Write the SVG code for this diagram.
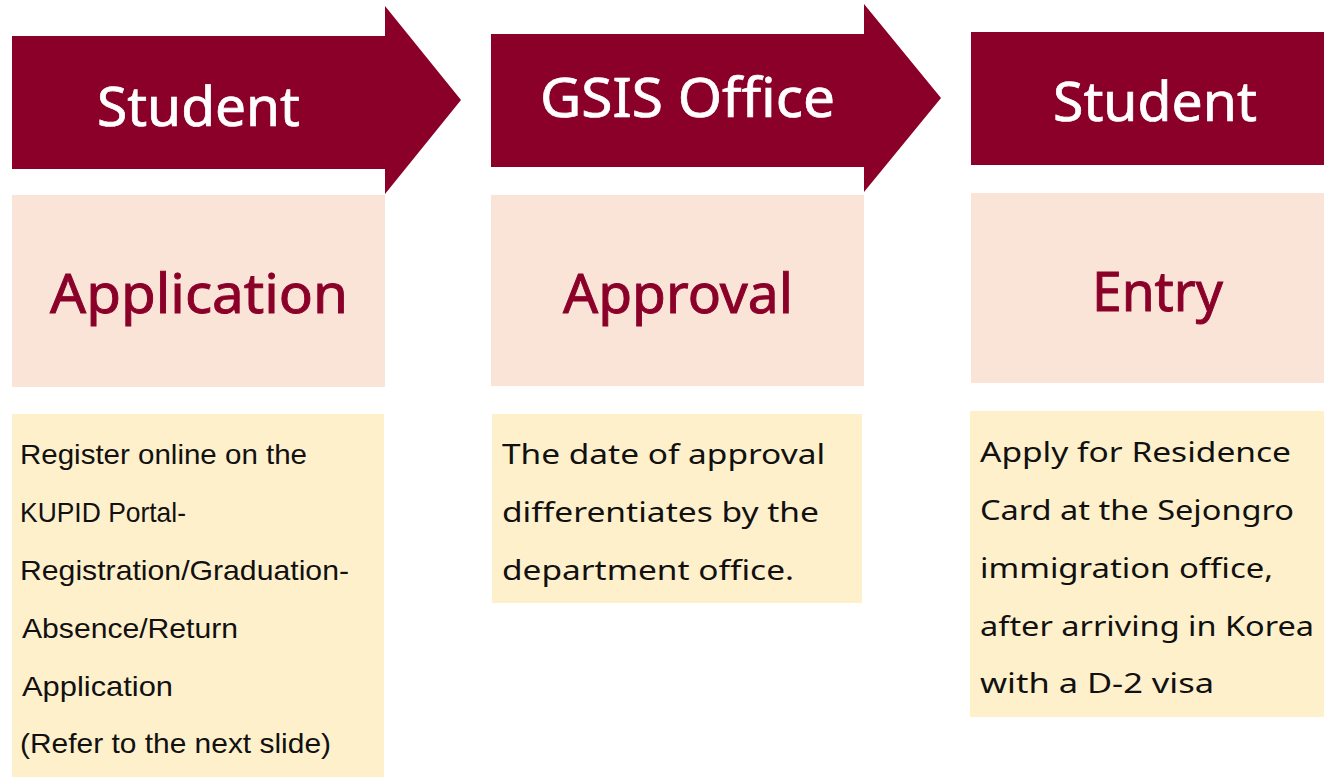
<svg xmlns="http://www.w3.org/2000/svg" width="1324" height="777" viewBox="0 0 1324 777">
<style>
.hdr{fill:#8B0029}
.pink{fill:#FAE4D8}
.yel{fill:#FFF0CC}
.ht{font-family:"Noto Sans","Open Sans","Liberation Sans",sans-serif;font-size:54px;fill:#FFFFFF;stroke:#FFFFFF;stroke-width:0.7px}
.pt{font-family:"Noto Sans","Open Sans","Liberation Sans",sans-serif;font-size:54px;fill:#8B0029;stroke:#8B0029;stroke-width:0.9px}
.b1{font-family:"Liberation Sans Narrow","Liberation Sans",sans-serif;font-size:28px;fill:#111111}
.b2{font-family:"Noto Sans","Open Sans","Liberation Sans",sans-serif;font-size:28px;fill:#111111}
</style>
<rect width="1324" height="777" fill="#FFFFFF"/>
<g id="connectors"></g>
<g id="step1">
<polygon class="hdr" points="12,36 385,36 385,6 461,100 385,194 385,169 12,169"/>
<text class="ht" x="97" y="126" textLength="203" lengthAdjust="spacingAndGlyphs">Student</text>
<rect class="pink" x="12" y="195" width="373" height="192"/>
<text class="pt" x="50" y="313" textLength="298" lengthAdjust="spacingAndGlyphs">Application</text>
<rect class="yel" x="12" y="414" width="372" height="363"/>
<text class="b1" x="20" y="464" textLength="287" lengthAdjust="spacingAndGlyphs">Register online on the</text>
<text class="b1" x="20" y="522" textLength="166" lengthAdjust="spacingAndGlyphs">KUPID Portal-</text>
<text class="b1" x="20" y="580" textLength="329" lengthAdjust="spacingAndGlyphs">Registration/Graduation-</text>
<text class="b1" x="22" y="638" textLength="216" lengthAdjust="spacingAndGlyphs">Absence/Return</text>
<text class="b1" x="22" y="696" textLength="151" lengthAdjust="spacingAndGlyphs">Application</text>
<text class="b1" x="20" y="753" textLength="311" lengthAdjust="spacingAndGlyphs">(Refer to the next slide)</text>
</g>
<g id="step2">
<polygon class="hdr" points="491,34 864,34 864,4 941,98 864,192 864,167 491,167"/>
<text class="ht" x="540" y="117" textLength="295" lengthAdjust="spacingAndGlyphs">GSIS Office</text>
<rect class="pink" x="491" y="195" width="373" height="191"/>
<text class="pt" x="563" y="313" textLength="230" lengthAdjust="spacingAndGlyphs">Approval</text>
<rect class="yel" x="492" y="414" width="370" height="189"/>
<text class="b2" x="502" y="464" textLength="323" lengthAdjust="spacingAndGlyphs">The date of approval</text>
<text class="b2" x="502" y="522" textLength="317" lengthAdjust="spacingAndGlyphs">differentiates by the</text>
<text class="b2" x="502" y="580" textLength="292" lengthAdjust="spacingAndGlyphs">department office.</text>
</g>
<g id="step3">
<rect class="hdr" x="971" y="32" width="353" height="133"/>
<text class="ht" x="1053" y="121" textLength="204" lengthAdjust="spacingAndGlyphs">Student</text>
<rect class="pink" x="971" y="193" width="353" height="190"/>
<text class="pt" x="1092" y="311" textLength="131" lengthAdjust="spacingAndGlyphs">Entry</text>
<rect class="yel" x="970" y="411" width="354" height="306"/>
<text class="b2" x="980" y="462" textLength="311" lengthAdjust="spacingAndGlyphs">Apply for Residence</text>
<text class="b2" x="980" y="520" textLength="314" lengthAdjust="spacingAndGlyphs">Card at the Sejongro</text>
<text class="b2" x="980" y="578" textLength="293" lengthAdjust="spacingAndGlyphs">immigration office,</text>
<text class="b2" x="980" y="636" textLength="334" lengthAdjust="spacingAndGlyphs">after arriving in Korea</text>
<text class="b2" x="980" y="693" textLength="234" lengthAdjust="spacingAndGlyphs">with a D-2 visa</text>
</g>
</svg>
